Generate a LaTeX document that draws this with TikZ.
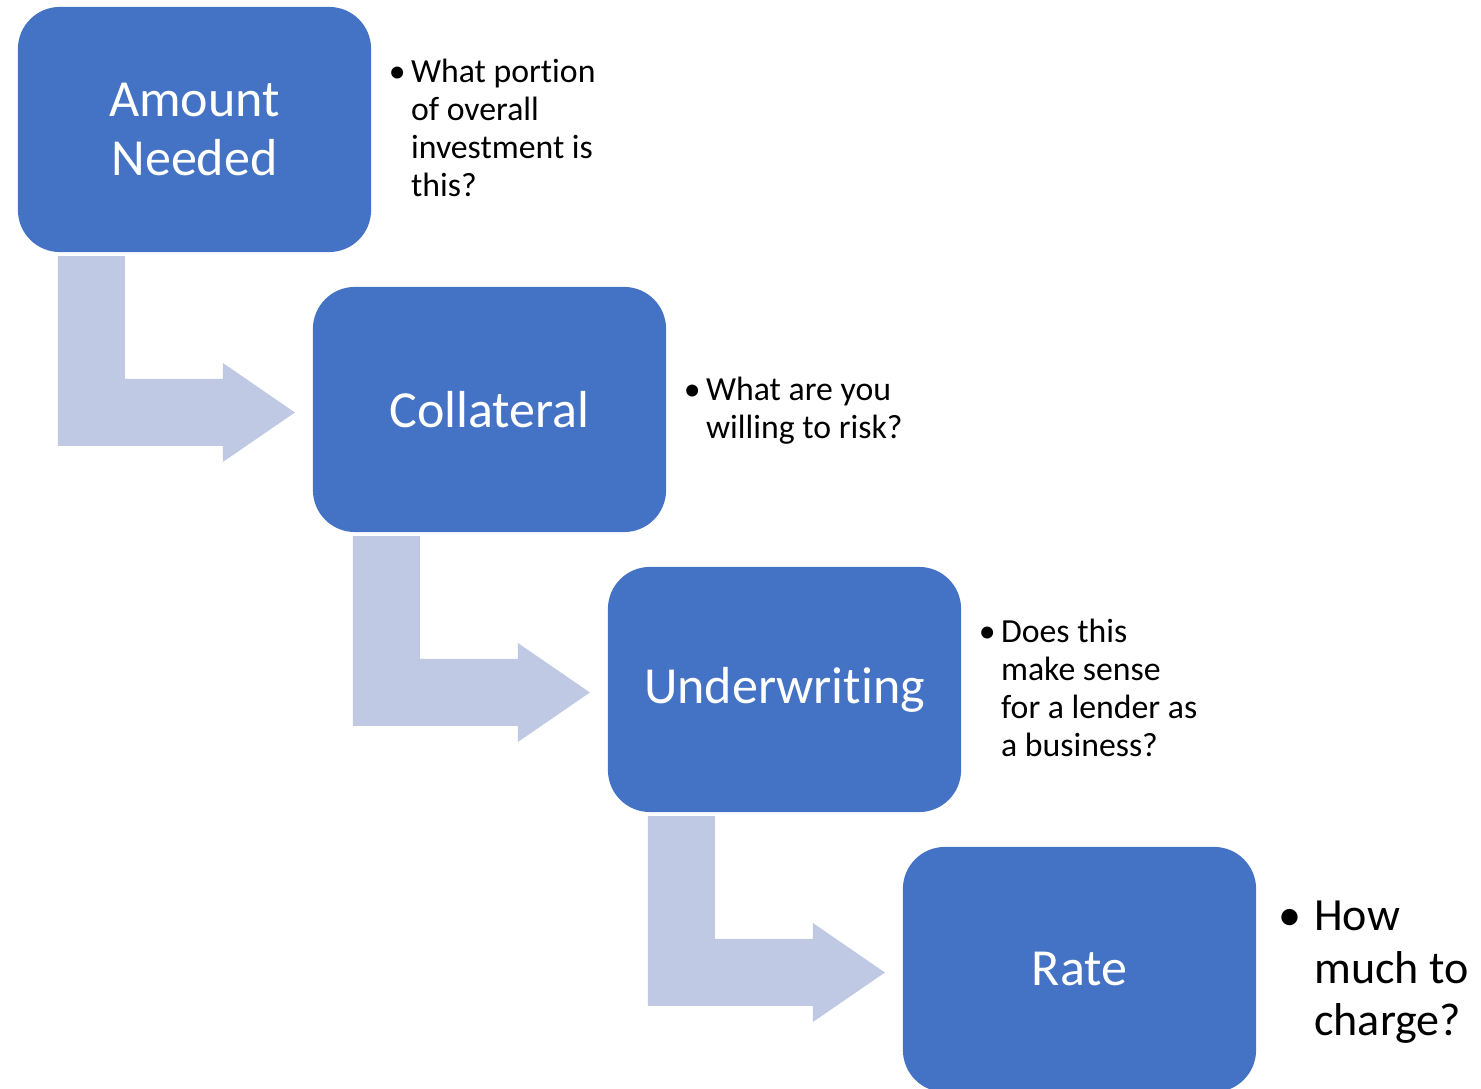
\documentclass[tikz,border=0pt]{standalone}
\usepackage{fontspec}
\setmainfont{Carlito}[Ligatures=NoCommon]
\usetikzlibrary{positioning, calc}

\definecolor{stageblue}{RGB}{68,114,196}
\definecolor{flowblue}{RGB}{191,201,227}

\newcommand{\stagefont}{\fontsize{14.8}{16.5}\selectfont}
\newcommand{\notefont}{\fontsize{9.6}{10.8}\selectfont}
\newcommand{\bignotefont}{\fontsize{13.1}{15}\selectfont}
\newcommand{\qmark}[1][0.66em]{\makebox[#1][l]{\textbullet}}

\begin{document}
\begin{tikzpicture}[
				x=0.01cm, y=-0.01cm,
				stage/.style={rectangle, rounded corners=0.42cm, fill=stageblue, text=white,
					minimum width=3.53cm, minimum height=2.45cm, inner sep=0pt, outer sep=0pt,
					align=center, font=\stagefont},
				note/.style={anchor=west, inner sep=0pt, align=left},
				flow/.style={fill=flowblue}
				]
				\useasboundingbox (0,0) rectangle (1481,1089);
				% the four stages
				\node[stage] (amount) at (194.5,129.5) {Amount\\Needed};
				\node[stage] (collateral) at (489.5,409.5) {Collateral};
				\node[stage] (underwriting) at (784.5,689.5) {Underwriting};
				\node[stage] (rate) at (1079.5,969.5) {Rate};
				% questions beside them
				\node[note, right=0.17cm of amount, yshift=-0.02cm] (qamount) {\notefont
					\begin{tabular}{@{}l@{}l@{}}\qmark & What portion\\ & of overall\\ & investment is\\ & this?\end{tabular}};
				\node[note, right=0.17cm of collateral, yshift=-0.02cm] (qcollateral) {\notefont
					\begin{tabular}{@{}l@{}l@{}}\qmark & What are you\\ & willing to risk?\end{tabular}};
				\node[note, right=0.17cm of underwriting, yshift=-0.02cm] (qunderwriting) {\notefont
					\begin{tabular}{@{}l@{}l@{}}\qmark & Does this\\ & make sense\\ & for a lender as\\ & a business?\end{tabular}};
				\node[note, right=0.22cm of rate, yshift=-0.03cm] (qrate) {\bignotefont
					\begin{tabular}{@{}l@{}l@{}}\qmark[0.77em] & How\\ & much to\\ & charge?\end{tabular}};
				% bent arrows between stages
				\foreach \a/\b in {amount/collateral, collateral/underwriting, underwriting/rate}{
					\fill[flow] ($(\a.south west)+(40,4)$) -- ($(\a.south west)+(107,4)$)
						|- ($(\b.west)+(-90,-30.5)$) -- ($(\b.west)+(-90,-46.5)$)
						-- ($(\b.west)+(-18,3)$) -- ($(\b.west)+(-90,52.5)$)
						-- ($(\b.west)+(-90,36.5)$) -| ($(\a.south west)+(40,4)$) -- cycle;
				}
			\end{tikzpicture}
\end{document}
